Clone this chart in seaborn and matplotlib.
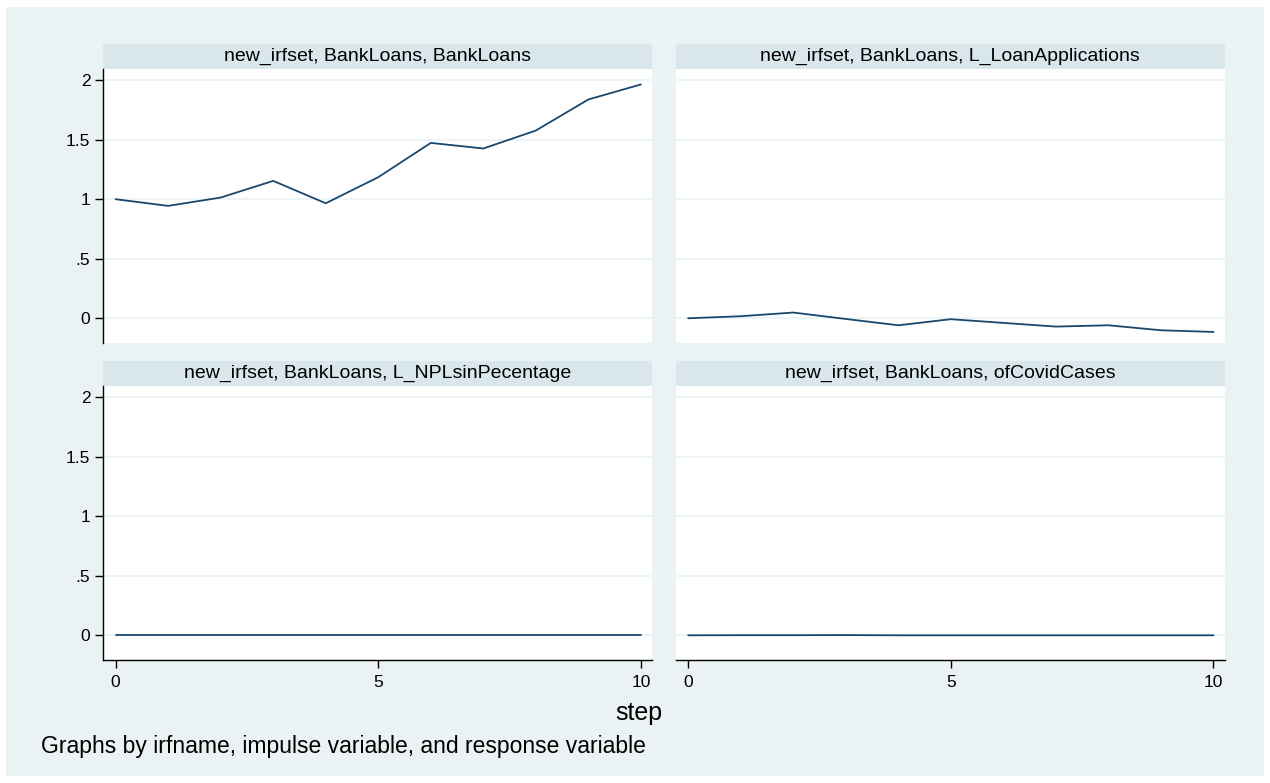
import numpy as np
import pandas as pd
import matplotlib
matplotlib.use("Agg")
import matplotlib.pyplot as plt
from matplotlib.patches import Rectangle
import seaborn as sns

# impulse response values (impulse = BankLoans)
steps = list(range(11))
resp_bankloans = [1.0, 0.944, 1.014, 1.154, 0.966, 1.185, 1.473, 1.426, 1.577, 1.838, 1.964]
resp_loanapps = [0.0, 0.017, 0.048, -0.006, -0.059, -0.008, -0.039, -0.070, -0.059, -0.101, -0.115]
resp_npl = [0.0, 0.0, 0.0, 0.0, 0.0, 0.0, 0.0, 0.0, 0.0, 0.0, 0.0]
resp_covid = [0.0, 0.001, 0.001, 0.002, 0.0, 0.0, 0.0, 0.0, 0.0, 0.0, 0.0]

panel_titles = [
    "new_irfset, BankLoans, BankLoans",
    "new_irfset, BankLoans, L_LoanApplications",
    "new_irfset, BankLoans, L_NPLsinPecentage",
    "new_irfset, BankLoans, ofCovidCases",
]
y_ticks = [0, 0.5, 1, 1.5, 2]
y_ticklabels = ["0", ".5", "1", "1.5", "2"]
x_ticks = [0, 5, 10]

df = pd.DataFrame({
    "step": steps * 4,
    "irf": resp_bankloans + resp_loanapps + resp_npl + resp_covid,
    "panel": np.repeat(panel_titles, len(steps)),
})

sns.set_style("white")
plt.rcParams["font.family"] = ["Liberation Sans", "DejaVu Sans"]
plt.rcParams["text.color"] = "black"
plt.rcParams["xtick.color"] = "black"
plt.rcParams["ytick.color"] = "black"
plt.rcParams["axes.labelcolor"] = "black"

bg = "#EAF2F3"
strip = "#D9E6EB"
navy = "#1A476F"

g = sns.relplot(data=df, x="step", y="irf", col="panel", col_wrap=2, kind="line",
                color=navy, linewidth=1.3, height=3.915, aspect=12.7 / 2 / 3.915,
                facet_kws={"sharex": True, "sharey": True})
fig = g.figure
fig.set_size_inches(12.7, 7.83)
fig.set_facecolor("white")
fig.subplots_adjust(left=0.0811, right=0.9646, top=0.9119, bottom=0.157,
                    wspace=0.042, hspace=0.157)

# light background panel behind everything
fig.patches.append(Rectangle((0.005, 0.009), 0.99, 0.982, transform=fig.transFigure,
                             facecolor=bg, edgecolor="none", zorder=-10))

for i, ax in enumerate(g.axes.flat):
    ax.set_facecolor("white")
    ax.set_title("")
    ax.set_xlabel("")
    ax.set_ylabel("")
    ax.set_xlim(-0.24, 10.22)
    ax.set_ylim(-0.208, 2.094)
    ax.set_yticks(y_ticks)
    ax.set_yticklabels(y_ticklabels)
    ax.set_xticks(x_ticks)
    for yv in y_ticks:
        ax.axhline(yv, color=bg, lw=1.2, zorder=0)
    for s in ["top", "right"]:
        ax.spines[s].set_visible(False)
    col = i % 2
    row = i // 2
    if col == 0:
        ax.spines["left"].set_color("black")
        ax.spines["left"].set_linewidth(1.0)
        ax.tick_params(axis="y", left=True, length=6, width=1, labelsize=12.5,
                       labelleft=True, pad=3, colors="black")
    else:
        ax.spines["left"].set_visible(False)
        ax.tick_params(axis="y", left=False, labelleft=False)
    if row == 1:
        ax.spines["bottom"].set_color("black")
        ax.spines["bottom"].set_linewidth(1.0)
        ax.tick_params(axis="x", bottom=True, length=6, width=1, labelsize=12.5,
                       labelbottom=True, pad=5, colors="black")
    else:
        ax.spines["bottom"].set_visible(False)
        ax.tick_params(axis="x", bottom=False, labelbottom=False)
    # strip title above the panel
    ax.add_patch(Rectangle((0, 1.0), 1, 0.092, transform=ax.transAxes,
                           facecolor=strip, edgecolor="none", clip_on=False))
    ax.text(0.5, 1.046, panel_titles[i], transform=ax.transAxes, ha="center",
            va="center", fontsize=14, color="black")

fig.text(0.503, 0.09, "step", ha="center", va="center", fontsize=18, color="black")
fig.text(0.032, 0.047, "Graphs by irfname, impulse variable, and response variable",
         ha="left", va="center", fontsize=16.5, color="black")

fig.savefig("out.png", dpi=100, facecolor="white")
